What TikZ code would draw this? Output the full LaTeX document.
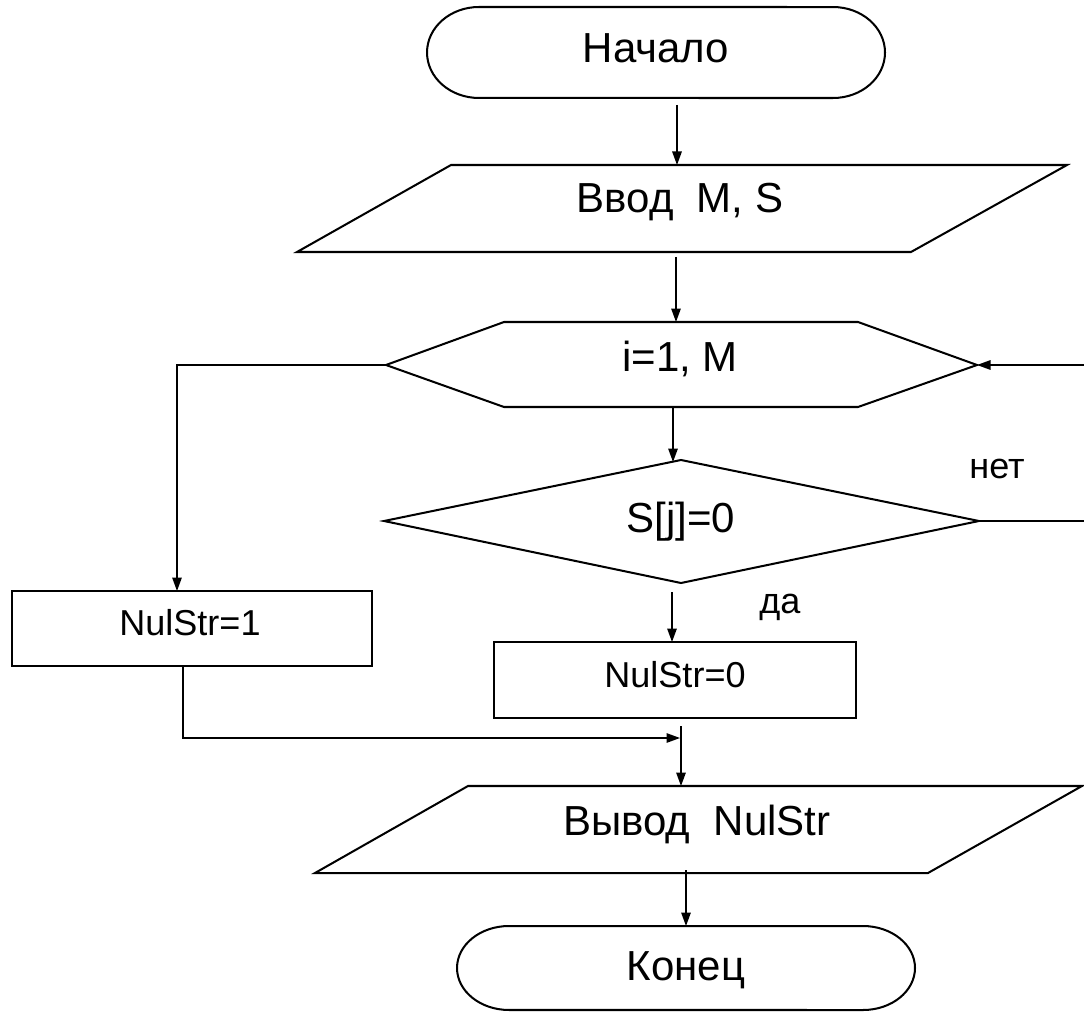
\documentclass[tikz,border=0pt]{standalone}
\usepackage{fontspec}
\setmainfont{Liberation Sans}
\usetikzlibrary{arrows.meta}
\begin{document}
\begin{tikzpicture}[x=0.02cm,y=-0.02cm,
  shp/.style={draw, line width=1.15pt, line join=miter},
  conn/.style={draw, line width=0.8pt},
  arr/.style={conn, -{Triangle[length=0.27cm,width=0.19cm]}},
  big/.style={font=\fontsize{23.9}{28}\selectfont, inner sep=0pt, anchor=base},
  small/.style={font=\fontsize{20.5}{24}\selectfont, inner sep=0pt, anchor=base}]
\useasboundingbox (0,0) rectangle (1084,1013);

% ---------- shapes ----------
% start terminator
\draw[shp] (479,7) arc[x radius=1.04cm, y radius=0.91cm, start angle=90, end angle=270]
  -- (833,98) arc[x radius=1.04cm, y radius=0.91cm, start angle=-90, end angle=90] -- cycle;
\node[big] (tstart) at (656,63) {Начало};
% input
\draw[shp] (451,165) -- (1067,165) -- (911,252) -- (297,252) -- cycle;
\node[big] (tin) at (680,213) {Ввод\ \ M, S};
% loop hexagon
\coordinate (hexL) at (386,365);
\coordinate (hexR) at (977,365);
\draw[shp] (hexL) -- (504,322) -- (858,322) -- (hexR) -- (858,407) -- (504,407) -- cycle;
\node[big] (thex) at (680,371) {i=1, M};
% decision diamond
\coordinate (diaT) at (681,460);
\coordinate (diaR) at (979,521);
\coordinate (diaB) at (681,583);
\coordinate (diaL) at (384,521);
\draw[shp] (diaT) -- (diaR) -- (diaB) -- (diaL) -- cycle;
\node[big] (tdia) at (681,532) {S[j]=0};
\node[small] (tno) at (997,478) {нет};
\node[small] (tyes) at (780,613) {да};
% boxes
\node[shp, minimum width=7.2cm, minimum height=1.5cm, inner sep=0pt] (nul1) at (192,628.5) {};
\node[small] (tnul1) at (190,635) {NulStr=1};
\node[shp, minimum width=7.24cm, minimum height=1.52cm, inner sep=0pt] (nul0) at (675,680) {};
\node[small] (tnul0) at (675,687) {NulStr=0};
% output
\draw[shp] (468,786) -- (1082,786) -- (928,873) -- (315,873) -- cycle;
\node[big] (tout) at (697,835) {Вывод\ \ NulStr};
% end terminator
\draw[shp] (509,926) arc[x radius=1.04cm, y radius=0.84cm, start angle=90, end angle=270]
  -- (863,1010) arc[x radius=1.04cm, y radius=0.84cm, start angle=-90, end angle=90] -- cycle;
\node[big] (tend) at (686,980) {Конец};

% ---------- connector end points ----------
\coordinate (a1s) at (677,105);
\coordinate (a1e) at (677,165);
\coordinate (a2s) at (676,257);
\coordinate (a2e) at (676,322);
\coordinate (a3s) at (673,407);
\coordinate (a3e) at (673,462);
\coordinate (a4s) at (672,592);
\coordinate (a4e) at (672,642);
\coordinate (leftC) at (177,365);
\coordinate (nul1T) at (177,591);
\coordinate (edgeR1) at (1084,365);
\coordinate (edgeR2) at (1084,521);
\coordinate (nul1B) at (183,666);
\coordinate (mcorner) at (183,738);
\coordinate (merge) at (680,738);
\coordinate (a5s) at (681,726);
\coordinate (a5e) at (681,786);
\coordinate (a6s) at (686,870);
\coordinate (a6e) at (686,926);

% ---------- connectors ----------
\draw[arr] (a1s) -- (a1e);
\draw[arr] (a2s) -- (a2e);
\draw[arr] (a3s) -- (a3e);
\draw[arr] (a4s) -- (a4e);
\draw[arr] (hexL) -- (leftC) -- (nul1T);
\draw[arr] (edgeR1) -- (hexR);
\draw[conn] (diaR) -- (edgeR2);
\draw[arr] (nul1B) -- (mcorner) -- (merge);
\draw[arr] (a5s) -- (a5e);
\draw[arr] (a6s) -- (a6e);
\end{tikzpicture}
\end{document}
